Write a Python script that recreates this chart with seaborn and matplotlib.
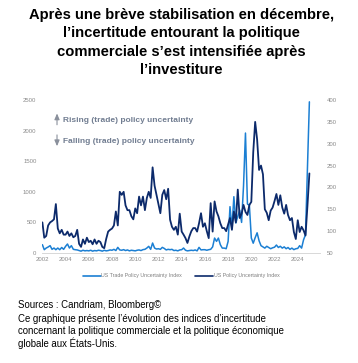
"""US trade / economic policy uncertainty chart."""

import matplotlib
matplotlib.use("Agg")
import matplotlib.dates as mdates
import matplotlib.pyplot as plt
import pandas as pd
import seaborn as sns
from matplotlib.lines import Line2D

# bi-monthly observations, Jan 2002 -> Jan 2025
dates = pd.date_range("2002-01-01", "2025-01-01", freq="2MS")

# US Trade Policy Uncertainty Index (left axis)
trade_policy = [
    136, 54, 81, 98, 120, 60,        # 2002
    81, 54, 81, 54, 90, 60,          # 2003
    109, 147, 81, 120, 60, 54,       # 2004
    50, 40, 30, 45, 35, 40,          # 2005
    35, 45, 30, 40, 35, 45,          # 2006
    40, 30, 45, 35, 40, 50,          # 2007
    45, 60, 40, 92, 50, 45,          # 2008
    55, 40, 50, 35, 45, 40,          # 2009
    35, 45, 50, 40, 55, 60,          # 2010
    81, 109, 60, 163, 81, 65,        # 2011
    70, 60, 92, 75, 50, 60,          # 2012
    54, 60, 40, 45, 35, 50,          # 2013
    54, 81, 45, 35, 40, 45,          # 2014
    40, 50, 35, 92, 50, 54,          # 2015
    54, 45, 54, 60, 100, 244,        # 2016
    190, 244, 136, 80, 80, 70,       # 2017
    190, 757, 400, 920, 490, 600,    # 2018
    700, 500, 1100, 1960, 800, 780,  # 2019
    245, 160, 250, 330, 200, 120,    # 2020
    100, 80, 110, 90, 70, 85,        # 2021
    95, 130, 90, 110, 80, 100,       # 2022
    70, 90, 60, 80, 55, 70,          # 2023
    75, 120, 80, 215, 300, 1414,     # 2024
    2470,                            # 2025
]

# US Policy Uncertainty Index (right axis)
policy = [
    120, 85, 89, 113, 120, 123,      # 2002
    127, 162, 106, 95, 103, 92,      # 2003
    92, 99, 89, 95, 86, 89,          # 2004
    103, 71, 64, 81, 71, 85,         # 2005
    75, 78, 70, 81, 71, 78,          # 2006
    75, 64, 61, 82, 99, 103,         # 2007
    106, 113, 145, 113, 190, 183,    # 2008
    190, 159, 148, 148, 134, 127,    # 2009
    152, 141, 179, 159, 179, 148,    # 2010
    176, 190, 176, 246, 204, 183,    # 2011
    162, 141, 183, 194, 173, 197,    # 2012
    126, 110, 103, 110, 92, 140,     # 2013
    99, 92, 84, 73, 88, 100,         # 2014
    107, 107, 99, 118, 141, 110,     # 2015
    118, 100, 84, 164, 99, 168,      # 2016
    145, 134, 118, 107, 107, 100,    # 2017
    115, 130, 103, 145, 120, 195,    # 2018
    130, 140, 160, 144, 137, 160,    # 2019
    167, 280, 350, 310, 240, 250,    # 2020
    230, 150, 142, 125, 147, 154,    # 2021
    169, 185, 160, 182, 154, 140,    # 2022
    160, 137, 125, 130, 98, 82,      # 2023
    125, 98, 110, 102, 90, 158,      # 2024
    232,                             # 2025
]

series_names = ["US Trade Policy Uncertainty Index", "US Policy Uncertainty Index"]
colors = ["#1b7fd3", "#0c2a6b"]

title_lines = [
    "Après une brève stabilisation en décembre,",
    "l’incertitude entourant la politique",
    "commerciale s’est intensifiée après",
    "l’investiture",
]
source_lines = [
    "Sources : Candriam, Bloomberg©",
    "Ce graphique présente l’évolution des indices d’incertitude",
    "concernant la politique commerciale et la politique économique",
    "globale aux États-Unis.",
]

df = pd.DataFrame({"date": dates, "trade": trade_policy, "policy": policy})

sns.set_style("white")
plt.rcParams["font.family"] = ["Liberation Sans", "DejaVu Sans"]

W, H = 358, 363
fig = plt.figure(figsize=(W / 100, H / 100), dpi=100)
ax = fig.add_axes([42 / W, 1 - 253 / H, (320 - 42) / W, (253 - 100) / H])
ax2 = ax.twinx()

sns.lineplot(data=df, x="date", y="trade", ax=ax, color=colors[0], linewidth=1.1)
sns.lineplot(data=df, x="date", y="policy", ax=ax2, color=colors[1], linewidth=1.3)

ax.set_ylim(0, 2500)
ax2.set_ylim(50, 400)
ax.set_yticks(range(0, 2501, 500))
ax2.set_yticks(range(50, 401, 50))
ax.set_xlim(pd.Timestamp("2001-12-20"), pd.Timestamp("2025-12-01"))
ax.xaxis.set_major_locator(mdates.YearLocator(2))
ax.xaxis.set_major_formatter(mdates.DateFormatter("%Y"))

for a in (ax, ax2):
    a.set_xlabel("")
    a.set_ylabel("")
    a.tick_params(length=0, labelsize=4.3, labelcolor="#8a8a8a", pad=4)
    for side in ("top", "left", "right"):
        a.spines[side].set_visible(False)
    a.spines["bottom"].set_color("#d9d9d9")
    a.spines["bottom"].set_linewidth(0.6)
ax.tick_params(axis="x", pad=3)
ax2.tick_params(axis="y", pad=5)

# arrows + labels
arrow_kw = dict(arrowstyle="-|>,head_length=0.35,head_width=0.15", color="#8a909c", lw=0.8)
ax.annotate("", xy=(0.054, 0.93), xytext=(0.054, 0.82), xycoords="axes fraction", arrowprops=arrow_kw)
ax.annotate("", xy=(0.054, 0.68), xytext=(0.054, 0.79), xycoords="axes fraction", arrowprops=arrow_kw)
ax.text(0.076, 0.868, "Rising (trade) policy uncertainty", transform=ax.transAxes,
        fontsize=6, color="#717d91", fontweight="bold", va="center")
ax.text(0.076, 0.732, "Falling (trade) policy uncertainty", transform=ax.transAxes,
        fontsize=6, color="#717d91", fontweight="bold", va="center")

handles = [Line2D([], [], color=c, lw=1.2) for c in colors]
fig.legend(handles, series_names, loc="center", bbox_to_anchor=(181 / W, 1 - 276 / H),
           ncol=2, frameon=False, fontsize=3.8, handlelength=3.4, handletextpad=0.1,
           columnspacing=2.5, labelcolor="#7f7f7f")

for i, line in enumerate(title_lines):
    fig.text(0.507, 1 - (15 + 18.5 * i) / H, line, ha="center", va="center",
             fontsize=10.6, fontweight="bold", color="black")

for y, line in zip([305, 319, 331, 343], source_lines):
    fig.text(18 / W, 1 - y / H, line, ha="left", va="center", fontsize=6.9, color="black")

fig.savefig("out.png", dpi=100)
